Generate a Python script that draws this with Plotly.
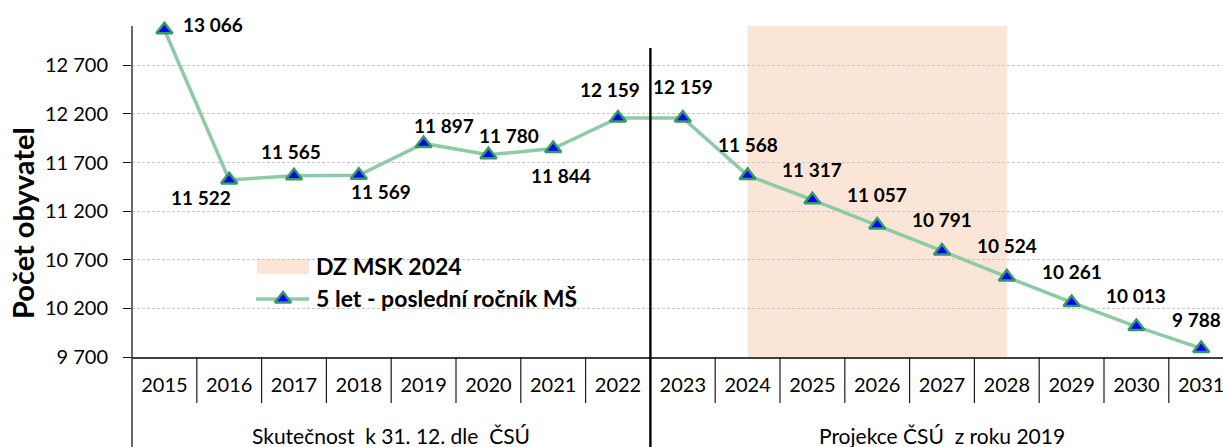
import plotly.graph_objects as go

# ---------------- data ----------------
years = [2015, 2016, 2017, 2018, 2019, 2020, 2021, 2022, 2023,
         2024, 2025, 2026, 2027, 2028, 2029, 2030, 2031]
values = [13066, 11522, 11565, 11569, 11897, 11780, 11844, 12159, 12159,
          11568, 11317, 11057, 10791, 10524, 10261, 10013, 9788]
series_name = "5 let - poslední ročník MŠ"
band_name = "DZ MSK 2024"
band_start, band_end = 2024, 2028
split_after = 2022          # last year of real data
group_labels = ["Skutečnost\u00a0\u00a0k 31. 12. dle\u00a0\u00a0ČSÚ",
                "Projekce ČSÚ\u00a0\u00a0z roku 2019"]
y_tick_vals = [9700, 10200, 10700, 11200, 11700, 12200, 12700]
y_title = "Počet obyvatel"

# ---------------- styles / positions ----------------
FONT = "Lato, Carlito, Calibri, sans-serif"
LINE_COL = "#8dcba6"
MARK_FILL = "#0000ff"
MARK_EDGE = "#339966"
BAND_COL = "#fbe5d6"
GRID_COL = "#c8c8c8"

# pixel offsets of data labels (dx, dy) relative to each point
label_offsets = [(49, 5), (-28, -18), (-3, 24), (22, -16), (20, 18), (21, 19),
                 (8, -27), (-8, 28), (0, 31), (0, 31), (0, 30), (0, 31),
                 (0, 31), (0, 31), (0, 31), (0, 31), (-5, 29)]

W, H = 1223, 447
ML, MR, MT, MB = 132, 0, 26, 90
plot_w = W - ML - MR
plot_h = H - MT - MB
cat_w = 64.8
x_range = [years[0] - 0.5, years[0] - 0.5 + plot_w / cat_w]
y_range = [9700, 13105]


def px_x(X):
    return (X - ML) / plot_w


def px_y(Y):
    return (H - MB - Y) / plot_h


def fmt(v):
    return f"{v:,}".replace(",", " ")


fig = go.Figure()

fig.add_trace(go.Scatter(
    x=years, y=values, mode="lines+markers", name=series_name,
    line=dict(color=LINE_COL, width=3.5),
    marker=dict(symbol="triangle-up", size=14, color=MARK_FILL,
                line=dict(color=MARK_EDGE, width=2.5)),
    cliponaxis=False, showlegend=False, hoverinfo="x+y"))

# legend marker glyph (on a hidden overlay axis in paper-like units)
fig.add_trace(go.Scatter(
    x=[px_x(283)], y=[px_y(299)], xaxis="x2", yaxis="y2", mode="markers",
    marker=dict(symbol="triangle-up", size=14, color=MARK_FILL,
                line=dict(color=MARK_EDGE, width=2.5)),
    showlegend=False, hoverinfo="skip", cliponaxis=False))

shapes = []
# shaded band
shapes.append(dict(type="rect", xref="x", yref="paper", x0=band_start, x1=band_end,
                   y0=0, y1=1, fillcolor=BAND_COL, line=dict(width=0), layer="between"))
# legend white box
shapes.append(dict(type="rect", xref="paper", yref="paper", x0=px_x(212), x1=px_x(638),
                   y0=px_y(322), y1=px_y(225), fillcolor="white", line=dict(width=0),
                   layer="between"))
# legend swatch
shapes.append(dict(type="rect", xref="paper", yref="paper", x0=px_x(257), x1=px_x(309),
                   y0=px_y(274), y1=px_y(259), fillcolor=BAND_COL, line=dict(width=0),
                   layer="between"))
# legend line
shapes.append(dict(type="line", xref="paper", yref="paper", x0=px_x(256), x1=px_x(309),
                   y0=px_y(299), y1=px_y(299), line=dict(color=LINE_COL, width=3.5),
                   layer="between"))
# category separators
sep_bottom = px_y(403)
fig_bottom = px_y(447)
for yr in years[:-1]:
    b = yr + 0.5
    if b == split_after + 0.5:
        continue
    shapes.append(dict(type="line", xref="x", yref="paper", x0=b, x1=b,
                       y0=0, y1=sep_bottom, line=dict(color="#1a1a1a", width=1.2),
                       layer="above"))
# left axis line extended
shapes.append(dict(type="line", xref="paper", yref="paper", x0=0, x1=0,
                   y0=1, y1=fig_bottom, line=dict(color="#1a1a1a", width=1.3),
                   layer="above"))
# split line
shapes.append(dict(type="line", xref="x", yref="paper", x0=split_after + 0.5,
                   x1=split_after + 0.5, y0=px_y(48), y1=fig_bottom,
                   line=dict(color="black", width=2.4), layer="above"))

annotations = []
for yr, v, (dx, dy) in zip(years, values, label_offsets):
    annotations.append(dict(x=yr, y=v, xref="x", yref="y", text=f"<b>{fmt(v)}</b>",
                            showarrow=False, xshift=dx, yshift=dy,
                            font=dict(family=FONT, size=19, color="black"),
                            xanchor="center", yanchor="middle"))
# group labels
annotations.append(dict(x=(years[0] - 0.5 + split_after + 0.5) / 2, y=px_y(435),
                        xref="x", yref="paper", text=group_labels[0], showarrow=False,
                        font=dict(family=FONT, size=21, color="black"),
                        xanchor="center", yanchor="middle"))
annotations.append(dict(x=(split_after + 0.5 + years[-1] + 0.5) / 2, y=px_y(435),
                        xref="x", yref="paper", text=group_labels[1], showarrow=False,
                        font=dict(family=FONT, size=21, color="black"),
                        xanchor="center", yanchor="middle"))
# legend texts
annotations.append(dict(x=px_x(314), y=px_y(266), xref="paper", yref="paper",
                        text=f"<b>{band_name}</b>", showarrow=False,
                        font=dict(family=FONT, size=23, color="black"),
                        xanchor="left", yanchor="middle"))
annotations.append(dict(x=px_x(314), y=px_y(298), xref="paper", yref="paper",
                        text=f"<b>{series_name}</b>", showarrow=False,
                        font=dict(family=FONT, size=23, color="black"),
                        xanchor="left", yanchor="middle"))
# y title
annotations.append(dict(x=px_x(22), y=px_y(223), xref="paper", yref="paper",
                        text=f"<b>{y_title}</b>", showarrow=False, textangle=-90,
                        font=dict(family=FONT, size=29, color="black"),
                        xanchor="center", yanchor="middle"))

fig.update_layout(
    width=W, height=H,
    margin=dict(l=ML, r=MR, t=MT, b=MB),
    paper_bgcolor="white", plot_bgcolor="white",
    font=dict(family=FONT, size=20, color="black"),
    showlegend=False,
    shapes=shapes, annotations=annotations,
    xaxis=dict(type="linear", range=x_range, tickvals=years,
               ticktext=[str(y) for y in years], ticks="", showgrid=False,
               zeroline=False, showline=True, linecolor="#404040", linewidth=1.5,
               tickfont=dict(family=FONT, size=20, color="black"),
               ticklabelstandoff=9, ticklabeloverflow="allow", fixedrange=True),
    yaxis=dict(range=y_range, tickvals=y_tick_vals,
               ticktext=[fmt(v) for v in y_tick_vals], ticks="outside", ticklen=8,
               tickcolor="#1a1a1a", tickwidth=1.2, showgrid=True, gridcolor=GRID_COL,
               gridwidth=1, griddash="3px,2px", zeroline=False, showline=False,
               tickfont=dict(family=FONT, size=20, color="black"),
               ticklabelstandoff=11, fixedrange=True),
    xaxis2=dict(overlaying="x", anchor="y2", range=[0, 1], visible=False, fixedrange=True),
    yaxis2=dict(overlaying="y", anchor="x2", range=[0, 1], visible=False, fixedrange=True),
)

fig.write_html("out.html", config={"displayModeBar": False},
               post_script="document.body.style.margin='0';"
                           "document.body.style.overflow='hidden';")
